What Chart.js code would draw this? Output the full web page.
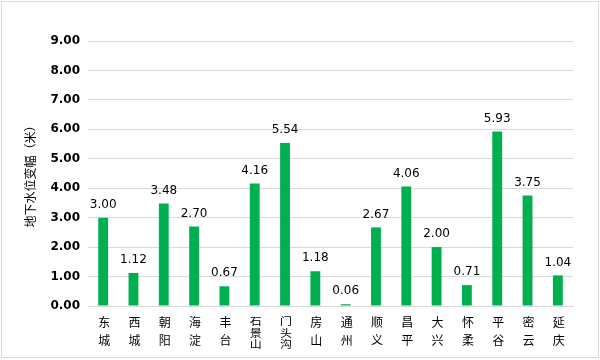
<!DOCTYPE html>
<html>
<head>
<meta charset="utf-8">
<script src="https://cdn.jsdelivr.net/npm/chart.js@4/dist/chart.umd.min.js"></script>
<style>
  body { margin: 0; background: #fff; }
  #wrap { width: 600px; height: 360px; position: relative; }
</style>
</head>
<body>
<div id="wrap"><canvas id="waterChart"></canvas></div>
<script>
// 各区名称
const districts = ['东城', '西城', '朝阳', '海淀', '丰台', '石景山', '门头沟', '房山',
                   '通州', '顺义', '昌平', '大兴', '怀柔', '平谷', '密云', '延庆'];
// 地下水位变幅（米）
const waterChange = [3.00, 1.12, 3.48, 2.70, 0.67, 4.16, 5.54, 1.18, 0.06, 2.67, 4.06, 2.00, 0.71, 5.93, 3.75, 1.04];
const yTicks = [0, 1, 2, 3, 4, 5, 6, 7, 8, 9];

// 柱顶数值标签
const valueLabels = {
  id: 'valueLabels',
  afterDatasetsDraw(chart) {
    const ctx = chart.ctx;
    const meta = chart.getDatasetMeta(0);
    ctx.save();
    ctx.font = '12px "DejaVu Sans"';
    ctx.fillStyle = '#000';
    ctx.textAlign = 'center';
    ctx.textBaseline = 'middle';
    meta.data.forEach((bar, i) => {
      ctx.fillText(waterChange[i].toFixed(2), bar.x, bar.y - 13);
    });
    ctx.restore();
  }
};

// 竖排的分类标签（每个字一行），三个字的压扁一点
const verticalLabels = {
  id: 'verticalLabels',
  afterDraw(chart) {
    const ctx = chart.ctx;
    const xScale = chart.scales.x;
    ctx.save();
    ctx.font = '12px "Noto Sans CJK SC"';
    ctx.fillStyle = '#000';
    ctx.textAlign = 'center';
    ctx.textBaseline = 'middle';
    districts.forEach((name, i) => {
      const x = xScale.getPixelForTick(i) + 1;
      const chars = Array.from(name);
      if (chars.length === 2) {
        ctx.fillText(chars[0], x, 322);
        ctx.fillText(chars[1], x, 340);
      } else {
        chars.forEach((c, j) => {
          ctx.save();
          ctx.translate(x, 321 + j * 11.5);
          ctx.scale(1, 0.88);
          ctx.fillText(c, 0, 0);
          ctx.restore();
        });
      }
    });
    ctx.restore();
  }
};

// 外框
const outerBorder = {
  id: 'outerBorder',
  afterDraw(chart) {
    const ctx = chart.ctx;
    ctx.save();
    ctx.strokeStyle = '#d9d9d9';
    ctx.lineWidth = 1;
    ctx.strokeRect(1.5, 1.5, 597, 356);
    ctx.restore();
  }
};

const ctx = document.getElementById('waterChart').getContext('2d');
new Chart(ctx, {
  type: 'bar',
  data: {
    labels: districts,
    datasets: [{
      data: waterChange,
      backgroundColor: '#00b050',
      barPercentage: 0.406,
      categoryPercentage: 0.8
    }]
  },
  options: {
    responsive: true,
    maintainAspectRatio: false,
    animation: false,
    layout: { padding: { top: 41, right: 27, bottom: 0, left: 23 } },
    plugins: {
      legend: { display: false },
      tooltip: { enabled: false }
    },
    scales: {
      x: {
        grid: { display: false, drawTicks: false },
        border: { color: '#d9d9d9' },
        ticks: { display: false },
        afterFit: axis => { axis.height = 54; }
      },
      y: {
        min: 0,
        max: 9,
        afterBuildTicks: axis => { axis.ticks = yTicks.map(v => ({ value: v })); },
        grid: { color: '#d9d9d9', drawTicks: false },
        border: { display: false },
        ticks: {
          color: '#000',
          font: { family: 'DejaVu Sans', size: 12, weight: 'bold' },
          padding: 8,
          callback: v => Number(v).toFixed(2)
        },
        title: {
          display: true,
          text: '地下水位变幅（米）',
          color: '#000',
          font: { family: 'Noto Sans CJK SC', size: 12 },
          padding: { top: 0, bottom: 5 }
        }
      }
    }
  },
  plugins: [valueLabels, verticalLabels, outerBorder]
});
</script>
</body>
</html>
